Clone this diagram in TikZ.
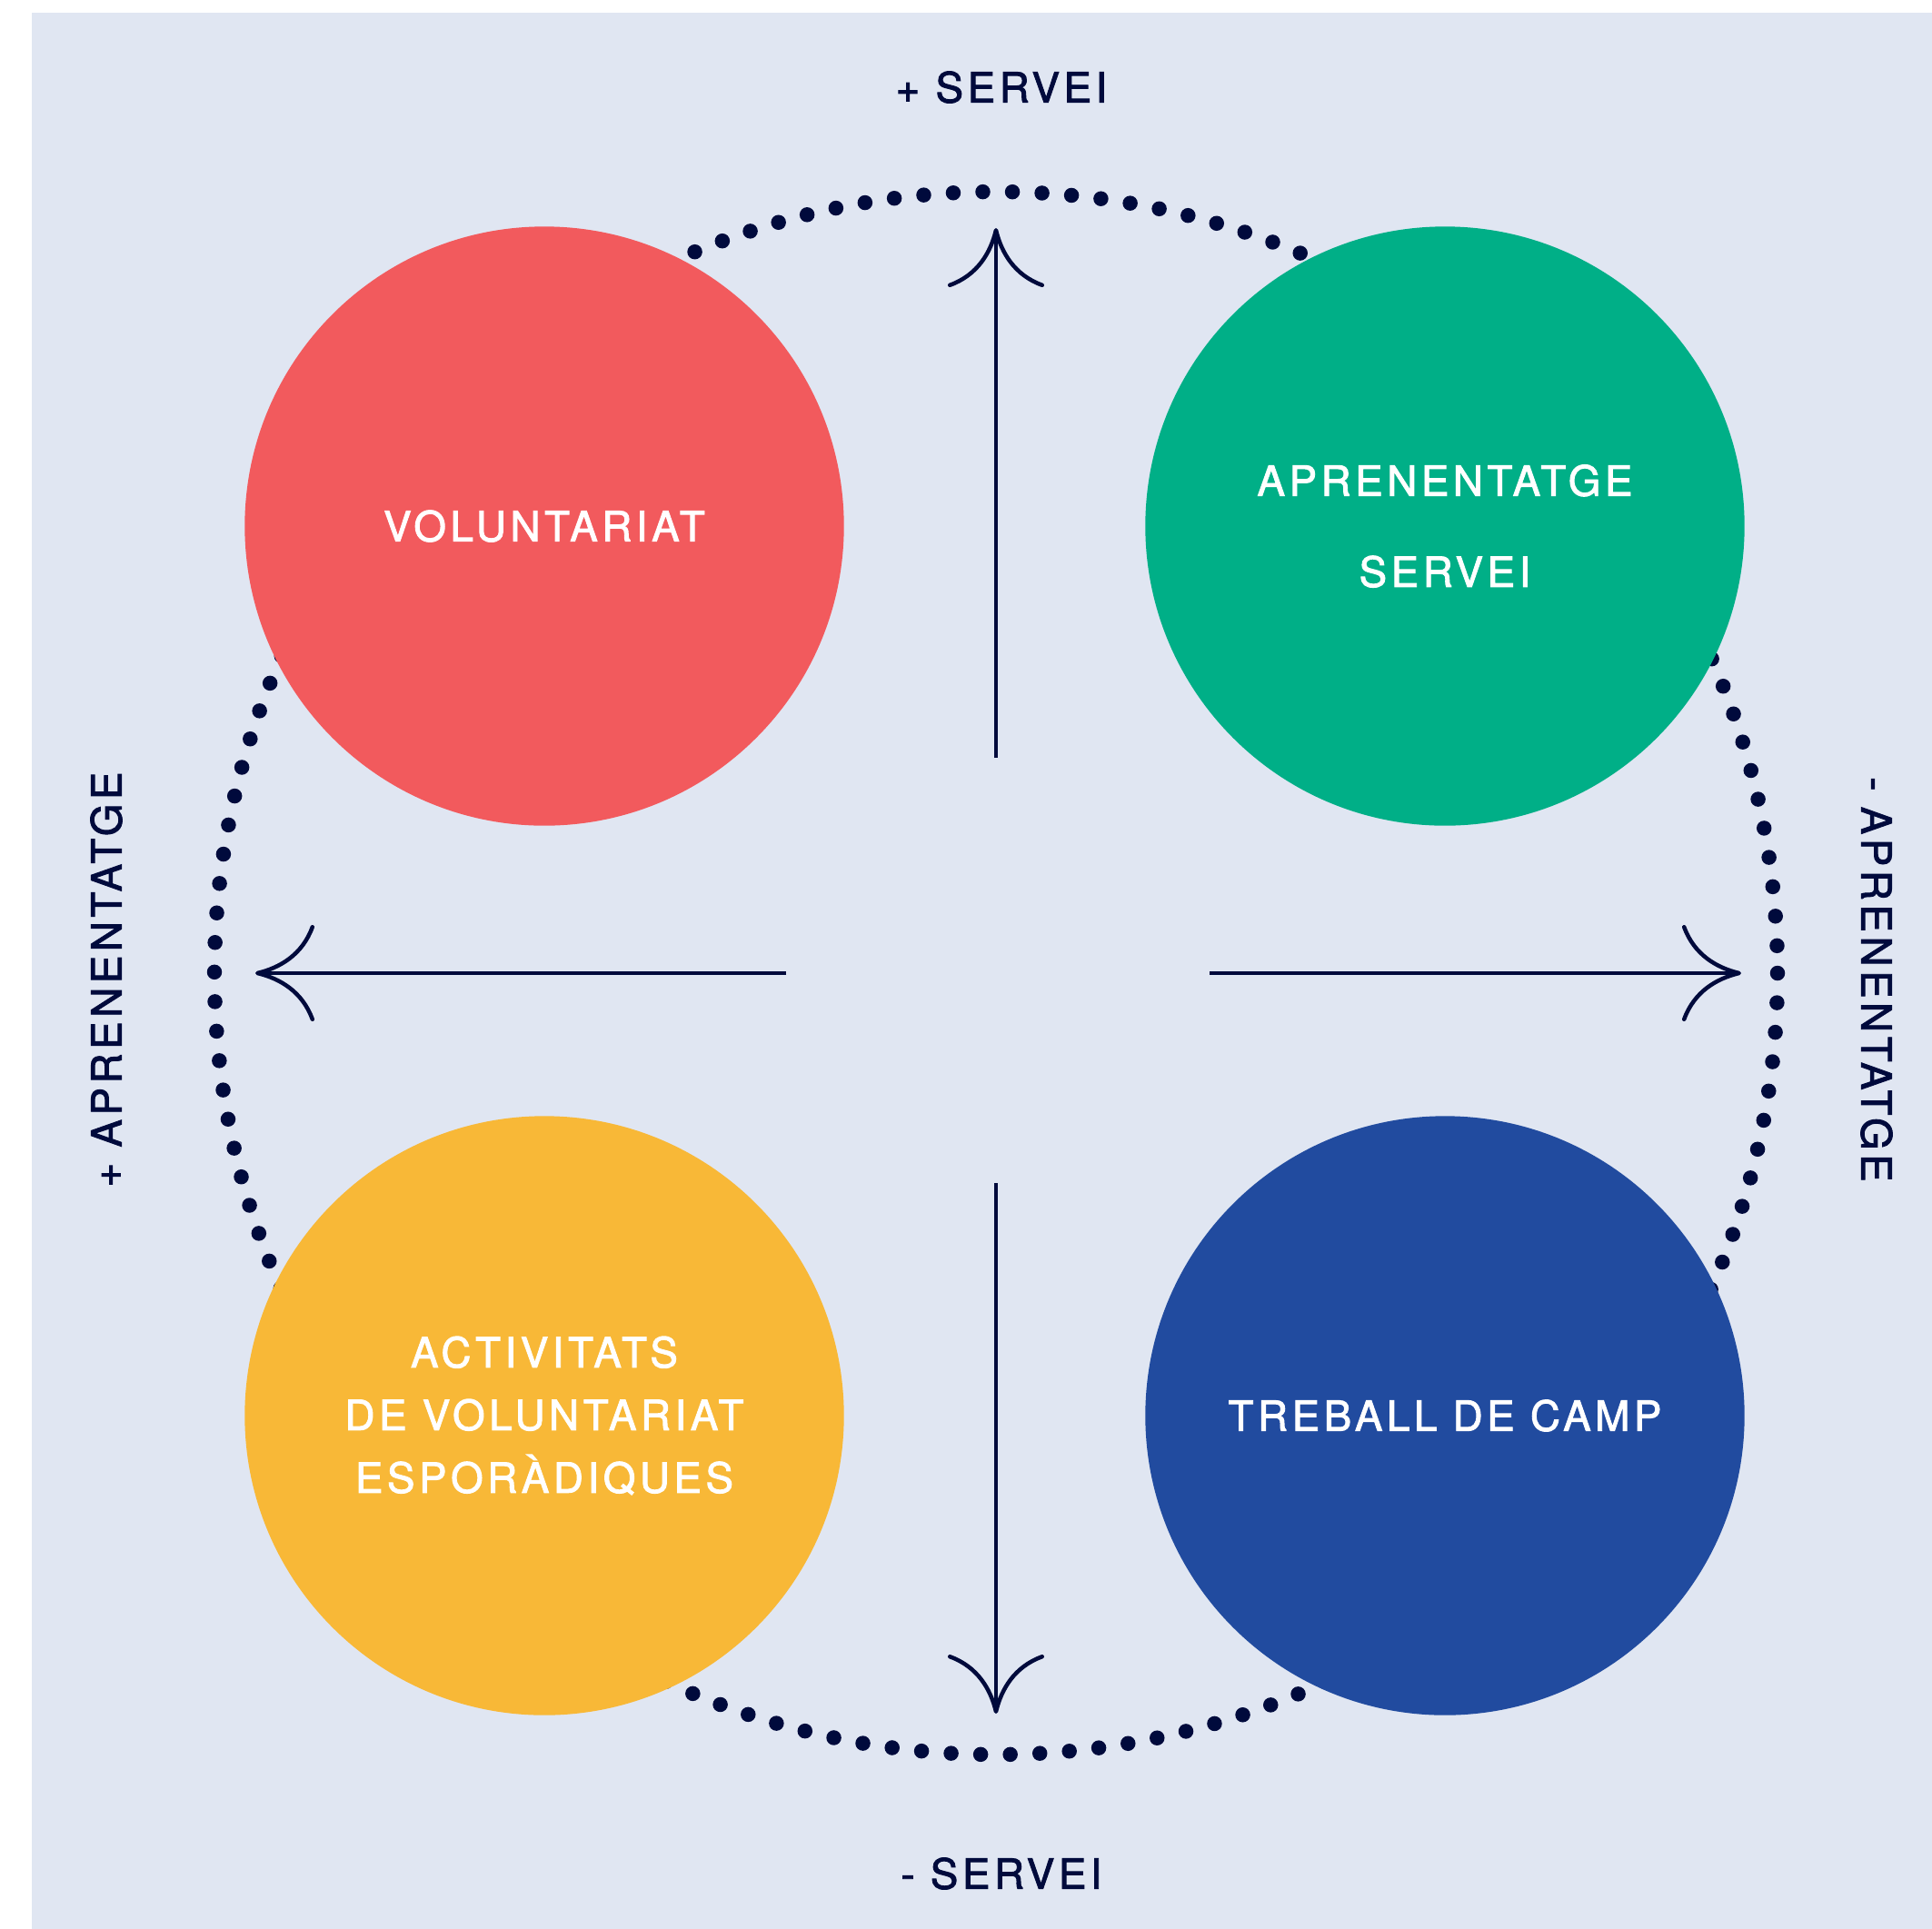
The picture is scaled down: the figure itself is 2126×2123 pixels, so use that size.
\documentclass[tikz,border=0pt]{standalone}
\usepackage{fontspec}
\setmainfont[LetterSpace=10, FakeBold=2]{TeX Gyre Heros}
\usepackage{tikz}
\usetikzlibrary{arrows.meta}

\definecolor{bgblue}{RGB}{224,230,242}
\definecolor{navy}{RGB}{0,10,60}
\definecolor{redc}{RGB}{242,90,93}
\definecolor{greenc}{RGB}{0,175,135}
\definecolor{yellowc}{RGB}{248,184,55}
\definecolor{bluec}{RGB}{33,75,159}

\tikzset{
  bubble/.style={circle, minimum size=6.59cm, inner sep=0pt, align=center,
    text=white, font=\fontsize{13}{19.6}\selectfont},
  axislabel/.style={text=navy, font=\fontsize{13}{19.6}\selectfont},
  axisarrow/.style={draw=navy, line width=0.045cm,
    -{Computer Modern Rightarrow[length=0.65cm, width=1.06cm]}},
  dotline/.style={draw=navy, line width=0.165cm, line cap=round,
    dash pattern=on 0pt off 0.32551cm}
}

\begin{document}
\begin{tikzpicture}[x=0.01cm, y=-0.01cm]
                  % Define canvas
                  \useasboundingbox (0,0) rectangle (2126,2123);
                  \fill[bgblue] (35,14) rectangle (2126,2123);

                  % Define coordinates
                  \coordinate (O) at (1096,1071);
                  \coordinate (Tup) at (1096,251);
                  \coordinate (Sup) at (1096,834);
                  \coordinate (Tdown) at (1096,1886);
                  \coordinate (Sdown) at (1096,1302);
                  \coordinate (Tleft) at (281,1071);
                  \coordinate (Sleft) at (865,1071);
                  \coordinate (Tright) at (1916,1071);
                  \coordinate (Sright) at (1331,1071);

                  % Draw the dotted circle
                  \draw[dotline] (O) circle[radius=860];

                  % Draw the four circles
                  \node[bubble, fill=redc] (vol) at (599,579) {VOLUNTARIAT};
                  \node[bubble, fill=greenc, font=\fontsize{13}{28.5}\selectfont] (aps) at (1590,579) {APRENENTATGE\\SERVEI};
                  \node[bubble, fill=yellowc] (act) at (599,1558) {ACTIVITATS\\DE VOLUNTARIAT\\ESPORÀDIQUES};
                  \node[bubble, fill=bluec] (camp) at (1590,1558) {TREBALL DE CAMP};

                  % Draw the arrows
                  \draw[axisarrow] (Sup) -- (Tup);
                  \draw[axisarrow] (Sdown) -- (Tdown);
                  \draw[axisarrow] (Sleft) -- (Tleft);
                  \draw[axisarrow] (Sright) -- (Tright);

                  % Axis labels
                  \node[axislabel] (messerv) at (1102,96) {+ SERVEI};
                  \node[axislabel] (menysserv) at (1102,2062) {- SERVEI};
                  \node[axislabel, rotate=90] (mesapr) at (117,1078) {+ APRENENTATGE};
                  \node[axislabel, rotate=-90] (menysapr) at (2065,1078) {- APRENENTATGE};

              \end{tikzpicture}
\end{document}
